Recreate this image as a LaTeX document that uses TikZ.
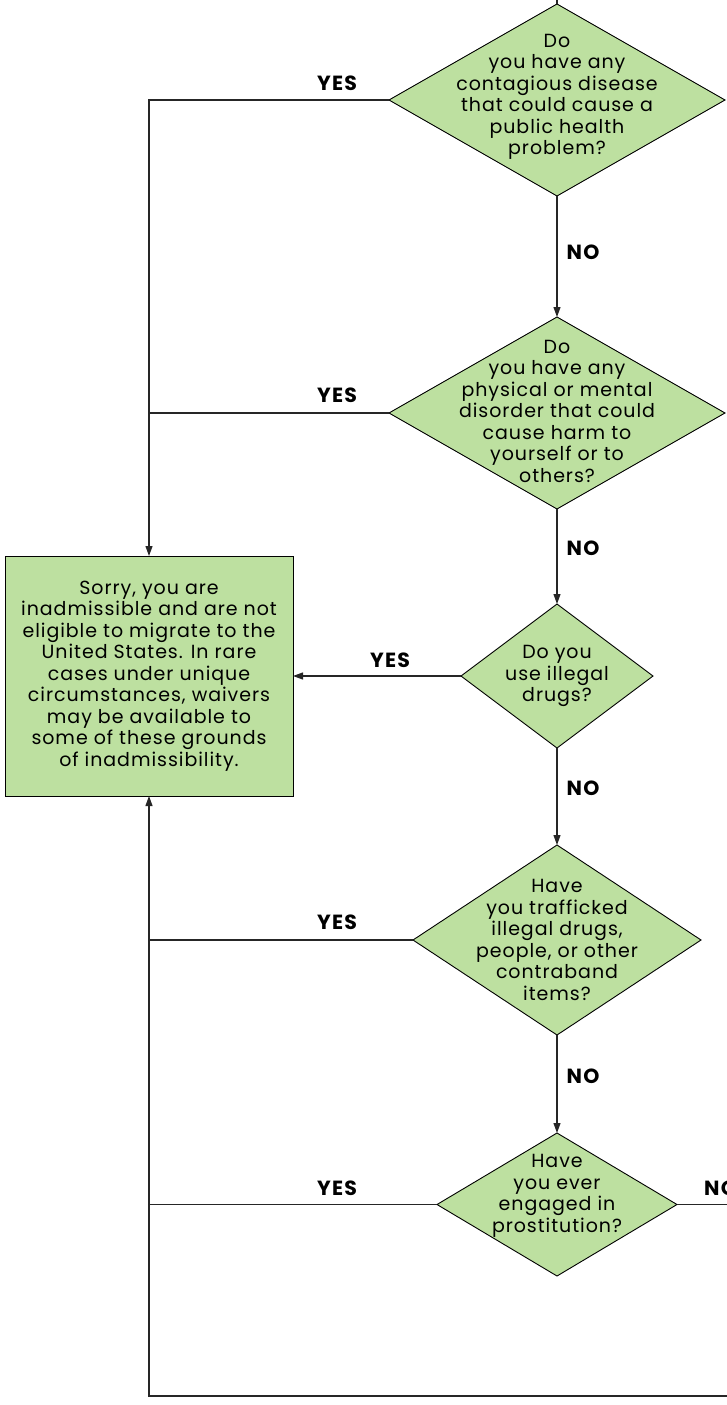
\documentclass[tikz,border=0pt]{standalone}
\usepackage{fontspec}
\setmainfont{Poppins}[LetterSpace=5]
\newfontfamily\answerfont{Poppins}[LetterSpace=6,BoldFont={* Bold}]
\usetikzlibrary{shapes.geometric,arrows.meta}
\definecolor{qgreen}{RGB}{189,224,160}
\begin{document}
\begin{tikzpicture}[x=1pt,y=-1pt,
  q/.style={diamond,draw=black,fill=qgreen,line width=0.9pt,inner sep=0pt,outer sep=0pt},
  qtext/.style={align=center,font=\fontsize{19}{21.5}\selectfont,inner sep=0pt},
  endbox/.style={draw=black,fill=qgreen,line width=0.9pt,inner sep=0pt,outer sep=0pt,
    align=center,font=\fontsize{19}{21.5}\selectfont},
  ans/.style={font=\answerfont\fontsize{20.5}{20}\selectfont\bfseries,inner sep=0pt},
  wire/.style={line width=1.1pt,draw=black!85},
  arr/.style={wire,-{Triangle[length=10pt,width=7pt]}}]
\useasboundingbox (0,0) rectangle (727,1405);

% question diamonds
\node[q,minimum width=336pt,minimum height=192pt] (d1) at (557,100) {};
\node[qtext] (t1) at (557,97) {Do\\you have any\\contagious disease\\that could cause a\\public health\\problem?};
\node[q,minimum width=336pt,minimum height=192pt] (d2) at (557,413) {};
\node[qtext] (t2) at (557,411) {Do\\you have any\\physical or mental\\disorder that could\\cause harm to\\yourself or to\\others?};
\node[q,minimum width=192pt,minimum height=144pt] (d3) at (557,676) {};
\node[qtext] (t3) at (557,676) {Do you\\use illegal\\drugs?};
\node[q,minimum width=288pt,minimum height=190pt] (d4) at (557,940) {};
\node[qtext] (t4) at (557,940) {Have\\you trafficked\\illegal drugs,\\people, or other\\contraband\\items?};
\node[q,minimum width=240pt,minimum height=143pt] (d5) at (557,1204.5) {};
\node[qtext] (t5) at (557,1196) {Have\\you ever\\engaged in\\prostitution?};

% outcome box
\node[endbox,minimum width=288pt,minimum height=240pt] (box) at (149,676)
  {Sorry, you are\\inadmissible and are not\\eligible to migrate to the\\United States. In rare\\cases under unique\\circumstances, waivers\\may be available to\\some of these grounds\\of inadmissibility.};

% free ends
\coordinate (intop) at (557,0);
\coordinate (noout) at (727,1204.5);
\coordinate (loop) at (727,1396);

% NO chain
\draw[wire] (intop) -- (d1.north);
\draw[arr] (d1.south) -- (d2.north);
\draw[arr] (d2.south) -- (d3.north);
\draw[arr] (d3.south) -- (d4.north);
\draw[arr] (d4.south) -- (d5.north);
\draw[wire] (d5.east) -- (noout);

% YES branches
\draw[arr] (d1.west) -| (box.north);
\draw[wire] (d2.west) -- (d2.west -| box.north);
\draw[arr] (d3.west) -- (box.east);
\draw[arr] (loop) -| (box.south);
\draw[wire] (d4.west) -- (d4.west -| box.south);
\draw[wire] (d5.west) -- (d5.west -| box.south);

% answer labels
\node[ans] (y1) at (337,83) {YES};
\node[ans] (y2) at (337,395) {YES};
\node[ans] (y3) at (390,660) {YES};
\node[ans] (y4) at (337,922) {YES};
\node[ans] (y5) at (337,1188) {YES};
\node[ans] (n1) at (583,252) {NO};
\node[ans] (n2) at (583,548) {NO};
\node[ans] (n3) at (583,788) {NO};
\node[ans] (n4) at (583,1076) {NO};
\node[ans,anchor=west] (n5) at (704,1188) {NO};
\end{tikzpicture}
\end{document}
